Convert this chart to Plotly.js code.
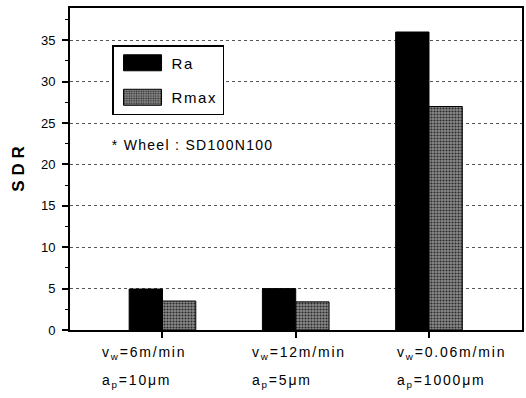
<!DOCTYPE html>
<html><head><meta charset="utf-8">
<script src="https://cdn.plot.ly/plotly-3.0.1.min.js"></script>
<style>
html,body{margin:0;padding:0;background:#fff;}
#chart{width:526px;height:398px;}
.annotation-text{letter-spacing:1.8px;}
.annotation[data-index="6"] .annotation-text{letter-spacing:1.3px;}
.legendtext{letter-spacing:1.6px;}
</style>
</head><body><div id="chart"></div>
<script>
const categories = ["c1", "c2", "c3"];
const labelLine1 = ["v<sub>w</sub>=6m/min", "v<sub>w</sub>=12m/min", "v<sub>w</sub>=0.06m/min"];
const labelLine2 = ["a<sub>p</sub>=10\u03bcm", "a<sub>p</sub>=5\u03bcm", "a<sub>p</sub>=1000\u03bcm"];
const raValues = [4.95, 5.0, 36.0];
const rmaxValues = [3.5, 3.4, 27.0];
const yTickVals = [0, 5, 10, 15, 20, 25, 30, 35];

const labelShift = [-62, -46, -34];
const FONT = "Liberation Sans, Arial, sans-serif";

const traces = [
  {type: "bar", name: "Ra", x: categories, y: raValues,
   marker: {color: "#000", line: {color: "#000", width: 1}}, legendgroup: "a"},
  {type: "bar", name: "Rmax", x: categories, y: rmaxValues,
   marker: {color: "#6e6e6e", line: {color: "#000", width: 1},
            pattern: {shape: ".", fgcolor: "#2a2a2a", bgcolor: "#8a8a8a", size: 3, solidity: 0.4}}, legendgroup: "b"}
];

const annotations = [];
categories.forEach((c, i) => {
  annotations.push({x: c, xref: "x", y: 0, yref: "paper", yshift: -23, xshift: labelShift[i],
    xanchor: "left", yanchor: "middle", showarrow: false, text: labelLine1[i],
    font: {family: FONT, size: 14, color: "#000"}});
  annotations.push({x: c, xref: "x", y: 0, yref: "paper", yshift: -51, xshift: labelShift[i],
    xanchor: "left", yanchor: "middle", showarrow: false, text: labelLine2[i],
    font: {family: FONT, size: 14, color: "#000"}});
});
annotations.push({x: 0.078, xref: "paper", y: 0.575, yref: "paper", xanchor: "left", yanchor: "middle",
  showarrow: false, text: "* Wheel : SD100N100", font: {family: FONT, size: 14, color: "#000"}});

const layout = {
  width: 526, height: 398,
  margin: {l: 70, r: 4, t: 8, b: 68},
  paper_bgcolor: "#fff", plot_bgcolor: "#fff",
  barmode: "group", bargap: 0.5, bargroupgap: 0,
  font: {family: FONT, size: 13, color: "#000"},
  xaxis: {type: "category", range: [-0.694, 2.698], showticklabels: false, ticks: "outside", ticklen: 6, tickwidth: 1.5,
    tickcolor: "#000", showline: true, linecolor: "#000", linewidth: 2, mirror: true,
    showgrid: false, zeroline: false},
  yaxis: {range: [0, 38.9], tickvals: yTickVals, ticks: "outside", ticklen: 6, tickwidth: 1.5,
    tickcolor: "#000", showline: true, linecolor: "#000", linewidth: 2, mirror: true,
    showgrid: true, gridcolor: "#555", gridwidth: 1, griddash: "dot", zeroline: false,
    ticklabelstandoff: 4,
    tickfont: {family: FONT, size: 13, color: "#000"},
    minor: {dtick: 2.5, ticks: "outside", ticklen: 3, tickcolor: "#000", tickwidth: 1, showgrid: false},
    title: {text: "<b>S D R</b>", font: {family: FONT, size: 17, color: "#000"}, standoff: 12}},
  legend: {x: 0.093, y: 0.885, xanchor: "left", yanchor: "top", bgcolor: "#fff",
    bordercolor: "#000", borderwidth: 1.5, tracegroupgap: 12, itemwidth: 48,
    font: {family: FONT, size: 15, color: "#000"}},
  annotations: annotations,
  showlegend: true
};

Plotly.newPlot("chart", traces, layout, {displayModeBar: false}).then(() => {
  document.querySelectorAll(".legend .legendpoints path").forEach(p => {
    p.setAttribute("d", "M19,8H-19V-8H19Z");
  });
});
</script></body></html>
